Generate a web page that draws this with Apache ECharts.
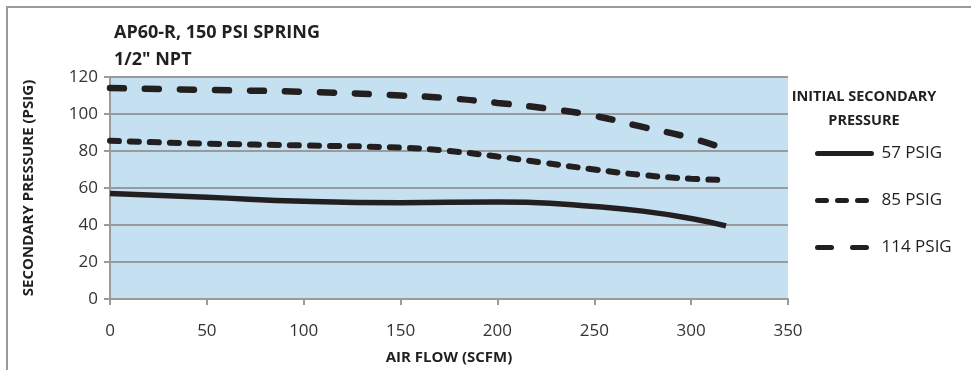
<!DOCTYPE html>
<html>
<head>
<meta charset="utf-8">
<script src="https://cdn.jsdelivr.net/npm/echarts@6/dist/echarts.min.js"></script>
<style>
  html, body { margin: 0; padding: 0; background: #fff; }
  #chart { width: 971px; height: 370px; }
</style>
</head>
<body>
<div id="chart"></div>
<script>
// air flow (SCFM) and secondary pressure (PSIG)
const flow57 = [0, 50, 100, 150, 200, 215, 250, 275, 300, 318]
const psig57 = [57, 55, 52.8, 52, 52.5, 52.3, 50, 47.5, 43.5, 39.5]

const flow85 = [0, 50, 100, 150, 175, 200, 225, 250, 275, 300, 318]
const psig85 = [85.5, 84, 83, 81.8, 80, 77, 73.5, 70, 67, 65, 64.3]

const flow114 = [0, 50, 100, 150, 175, 200, 225, 250, 275, 300, 318]
const psig114 = [114, 113, 112, 110, 108.5, 106, 103, 99, 93, 87, 81]

const seriesNames = ['57 PSIG', '85 PSIG', '114 PSIG']
const xTicks = { min: 0, max: 350, interval: 50 }
const yTicks = { min: 0, max: 120, interval: 20 }

const pairs = (xs, ys) => xs.map((x, i) => [x, ys[i]])

const ink = '#231f20'
const gray = '#9a9a9a'
const font = '"Open Sans", "Liberation Sans", sans-serif'

const chart = echarts.init(document.getElementById('chart'))
chart.setOption({
  animation: false,
  textStyle: { fontFamily: font },
  graphic: [
    {
      type: 'rect',
      shape: { x: 7, y: 7, width: 980, height: 380 },
      style: { fill: 'none', stroke: gray, lineWidth: 2 },
      silent: true
    },
    {
      type: 'text', x: 114, y: 33,
      style: { text: 'AP60-R, 150 PSI SPRING', font: 'bold 18px ' + font, fill: ink, verticalAlign: 'middle' }
    },
    {
      type: 'text', x: 114, y: 60,
      style: { text: '1/2" NPT', font: 'bold 18px ' + font, fill: ink, verticalAlign: 'middle' }
    },
    {
      type: 'text', x: 864, y: 97,
      style: { text: 'INITIAL SECONDARY', font: 'bold 14.5px ' + font, fill: ink, align: 'center', verticalAlign: 'middle' }
    },
    {
      type: 'text', x: 864, y: 121,
      style: { text: 'PRESSURE', font: 'bold 14.5px ' + font, fill: ink, align: 'center', verticalAlign: 'middle' }
    }
  ],
  grid: { left: 110, top: 77, width: 678, height: 222, show: true, backgroundColor: '#c4e0f1', borderWidth: 0 },
  legend: {
    orient: 'vertical',
    left: 810,
    top: 140,
    itemWidth: 54,
    itemHeight: 16,
    itemGap: 30,
    data: seriesNames,
    itemStyle: { opacity: 0 },
    lineStyle: { width: 5, cap: 'round' },
    textStyle: { fontSize: 17, color: ink, fontFamily: font, padding: [0, 0, 0, 5] }
  },
  xAxis: {
    type: 'value',
    min: xTicks.min, max: xTicks.max, interval: xTicks.interval,
    name: 'AIR FLOW (SCFM)',
    nameLocation: 'middle',
    nameGap: 51,
    nameTextStyle: { fontWeight: 'bold', fontSize: 15, color: ink },
    axisLine: { lineStyle: { color: gray, width: 2 } },
    axisTick: { inside: false, length: 6, lineStyle: { color: gray, width: 2 } },
    axisLabel: { fontSize: 17, color: '#333', margin: 24 },
    splitLine: { show: false }
  },
  yAxis: {
    type: 'value',
    min: yTicks.min, max: yTicks.max, interval: yTicks.interval,
    name: 'SECONDARY PRESSURE (PSIG)',
    nameLocation: 'middle',
    nameGap: 74,
    nameTextStyle: { fontWeight: 'bold', fontSize: 15, color: ink },
    axisLine: { show: true, lineStyle: { color: gray, width: 2 } },
    axisTick: { show: true, length: 6, lineStyle: { color: gray, width: 2 } },
    axisLabel: { fontSize: 17, color: '#333', margin: 12 },
    splitLine: { lineStyle: { color: gray, width: 2 } }
  },
  series: [
    {
      name: seriesNames[0], type: 'line', smooth: true, symbol: 'none',
      lineStyle: { color: ink, width: 5.5 },
      itemStyle: { color: ink },
      data: pairs(flow57, psig57)
    },
    {
      name: seriesNames[1], type: 'line', smooth: true, symbol: 'none',
      lineStyle: { color: ink, width: 6, type: [9, 11], cap: 'round' },
      itemStyle: { color: ink },
      data: pairs(flow85, psig85)
    },
    {
      name: seriesNames[2], type: 'line', smooth: true, symbol: 'none',
      lineStyle: { color: ink, width: 6.5, type: [14, 21], cap: 'round' },
      itemStyle: { color: ink },
      data: pairs(flow114, psig114)
    }
  ]
})
</script>
</body>
</html>
